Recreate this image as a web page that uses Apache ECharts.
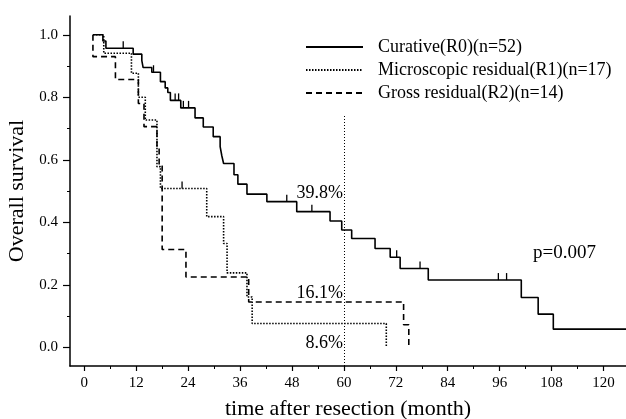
<!DOCTYPE html>
<html><head><meta charset="utf-8">
<script src="https://cdn.jsdelivr.net/npm/echarts@6/dist/echarts.min.js"></script>
<style>html,body{margin:0;padding:0;background:#fff}#c{width:626px;height:419px}</style>
</head><body><div id="c"></div>
<script>
// ---- data ----
const seriesNames = ['Curative(R0)(n=52)', 'Microscopic residual(R1)(n=17)', 'Gross residual(R2)(n=14)'];
// Kaplan-Meier steps: [month, survival after the step]
const curativeR0 = [[2.0,1.0],[4.3,0.98],[5.0,0.957],[11.3,0.938],[13.3,0.917],[13.6,0.895],[15.6,0.88],[17.6,0.85],[18.7,0.83],[19.3,0.815],[19.9,0.79],[22.3,0.766],[25.6,0.734],[27.5,0.705],[29.8,0.674],[31.4,0.642],[31.8,0.612],[32.2,0.588],[34.6,0.552],[35.5,0.522],[37.6,0.49],[42.2,0.466],[49.1,0.434],[56.8,0.404],[59.5,0.375],[61.8,0.348],[67.2,0.316],[70.7,0.288],[73.0,0.252],[79.5,0.215],[101.0,0.159],[104.9,0.106],[108.4,0.058],[125.2,0.058]];
const microR1 = [[2.0,1.0],[4.5,0.941],[10.9,0.877],[12.5,0.80],[14.1,0.727],[16.8,0.578],[17.6,0.508],[28.3,0.418],[32.2,0.332],[33.0,0.238],[37.6,0.161],[38.8,0.076],[69.8,0.0]];
const grossR2 = [[2.0,1.0],[2.0,0.93],[7.2,0.857],[12.5,0.78],[13.8,0.706],[16.8,0.64],[17.3,0.58],[18.0,0.313],[23.5,0.225],[38.0,0.145],[73.8,0.072],[75.0,0.0]];
const censorR0 = [[9.0,0.957],[16.0,0.88],[21.0,0.79],[21.8,0.79],[22.9,0.766],[24.1,0.766],[46.8,0.466],[52.6,0.434],[72.2,0.288],[77.6,0.252],[95.7,0.215],[97.6,0.215]];
const censorR1 = [[22.6,0.508]];
const xMajorTicks = [0,12,24,36,48,60,72,84,96,108,120];
const xMinorTicks = [6,18,30,42,54,66,78,90,102,114];
const yMajorTicks = [0,0.2,0.4,0.6,0.8,1.0];
const yMinorTicks = [0.1,0.3,0.5,0.7,0.9];
const refLine60 = [[60,0.74],[60,-0.06]];
// annotation texts: [month, survival, text, align]
const annotations = [[59.8,0.494,'39.8%','right'],[59.8,0.173,'16.1%','right'],[59.8,0.013,'8.6%','right'],[103.7,0.301,'p=0.007','left']];
const xTitle = 'time after resection (month)';
const yTitle = 'Overall survival';

// ---- chart ----
const FONT = "'Liberation Serif','Times New Roman',serif";
const chart = echarts.init(document.getElementById('c'), null, {renderer:'canvas'});
const XMIN = -3.3, XMAX = 125.2, YMIN = -0.06, YMAX = 1.06;
const lineBase = {type:'line', step:'end', symbol:'none', showSymbol:false, animation:false, silent:true};
chart.setOption({
  backgroundColor:'#fff',
  animation:false,
  grid:{left:70, right:0, top:16, bottom:53, outerBoundsMode:'none', containLabel:false},
  legend:{
    data:seriesNames, orient:'vertical', left:305, top:38, padding:0,
    itemWidth:57, itemHeight:10, itemGap:5,
    itemStyle:{opacity:0},
    textStyle:{fontFamily:FONT, fontSize:18, color:'#000', lineHeight:18, padding:[0,0,0,10]}
  },
  xAxis:[{
    type:'value', min:XMIN, max:XMAX, name:xTitle, nameLocation:'middle', nameGap:32,
    nameTextStyle:{fontFamily:FONT, fontSize:22, color:'#000'},
    axisLine:{show:true, onZero:false, lineStyle:{color:'#000', width:1.5}},
    axisTick:{show:true, customValues:xMajorTicks, length:5, lineStyle:{color:'#000', width:1.2}},
    axisLabel:{show:true, customValues:xMajorTicks, margin:10, fontFamily:FONT, fontSize:15, color:'#000'},
    splitLine:{show:false}
  },{
    type:'value', min:XMIN, max:XMAX, position:'bottom',
    axisLine:{show:false, onZero:false},
    axisTick:{show:true, customValues:xMinorTicks, length:3, lineStyle:{color:'#000', width:1}},
    axisLabel:{show:false}, splitLine:{show:false}
  }],
  yAxis:[{
    type:'value', min:YMIN, max:YMAX, name:yTitle, nameLocation:'middle', nameGap:40,
    nameTextStyle:{fontFamily:FONT, fontSize:22, color:'#000'},
    axisLine:{show:true, onZero:false, lineStyle:{color:'#000', width:1.5}},
    axisTick:{show:true, customValues:yMajorTicks, length:7, lineStyle:{color:'#000', width:1.2}},
    axisLabel:{show:true, customValues:yMajorTicks, margin:12, fontFamily:FONT, fontSize:15, color:'#000',
      formatter:v => Number(v).toFixed(1)},
    splitLine:{show:false}
  },{
    type:'value', min:YMIN, max:YMAX, position:'left',
    axisLine:{show:false, onZero:false},
    axisTick:{show:true, customValues:yMinorTicks, length:3, lineStyle:{color:'#000', width:1}},
    axisLabel:{show:false}, splitLine:{show:false}
  }],
  series:[
    Object.assign({}, lineBase, {name:seriesNames[0], data:curativeR0, lineStyle:{color:'#000', width:1.6, type:'solid'}, itemStyle:{color:'#000'},
      markLine:{silent:true, symbol:'none', label:{show:false}, lineStyle:{color:'#000', width:1, type:[1,2]}, data:[[{coord:refLine60[0]},{coord:refLine60[1]}]]}}),
    Object.assign({}, lineBase, {name:seriesNames[1], data:microR1, lineStyle:{color:'#000', width:1.6, type:[1.5,1.5]}, itemStyle:{color:'#000'}}),
    Object.assign({}, lineBase, {name:seriesNames[2], data:grossR2, lineStyle:{color:'#000', width:1.6, type:[6,4]}, itemStyle:{color:'#000'}}),
    {type:'scatter', name:'censorR0', data:censorR0, symbol:'rect', symbolSize:[1.3,7], symbolOffset:[0,-3.5], itemStyle:{color:'#000', opacity:1}, silent:true},
    {type:'scatter', name:'censorR1', data:censorR1, symbol:'rect', symbolSize:[1.3,7], symbolOffset:[0,-3.5], itemStyle:{color:'#000', opacity:1}, silent:true},
    {type:'custom', name:'annotations', silent:true, data:annotations.map(a => [a[0], a[1]]),
      renderItem:(params, api) => {
        const a = annotations[params.dataIndex];
        const p = api.coord([api.value(0), api.value(1)]);
        return {type:'text', x:p[0], y:p[1], style:{text:a[2], fill:'#000', align:a[3], verticalAlign:'middle',
          font:(a[2].startsWith('p') ? '19px ' : '18px ') + FONT}};
      }}
  ]
});
</script></body></html>
